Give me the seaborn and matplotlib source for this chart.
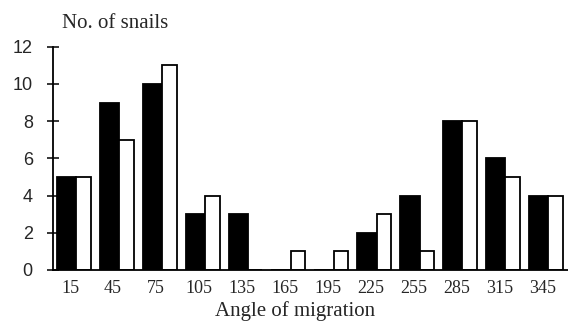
import numpy as np
import pandas as pd
import seaborn as sns
import matplotlib.pyplot as plt

# angle classes (degrees) and snail counts per class
angles = [15, 45, 75, 105, 135, 165, 195, 225, 255, 285, 315, 345]
black_counts = [5, 9, 10, 3, 3, 0, 0, 2, 4, 8, 6, 4]
white_counts = [5, 7, 11, 4, 0, 1, 1, 3, 1, 8, 5, 4]
y_ticks = [0, 2, 4, 6, 8, 10, 12]

df = pd.DataFrame({
    'angle': [str(a) for a in angles] * 2,
    'count': black_counts + white_counts,
    'series': ['black'] * len(angles) + ['white'] * len(angles),
})

sns.set_style('white')
plt.rcParams['font.family'] = ['Liberation Serif', 'DejaVu Serif']

fig = plt.figure(figsize=(5.68, 3.25), dpi=100)
ax = fig.add_axes([53 / 568, 55 / 325, 1 - 53 / 568, (270 - 46.7) / 325])

sns.barplot(data=df, x='angle', y='count', hue='series',
            palette={'black': 'black', 'white': 'white'},
            edgecolor='black', linewidth=1.3, width=0.8,
            legend=False, ax=ax)

# black bar a bit wider than the white one, as in the original figure
n = len(angles)
for i, p in enumerate(ax.patches[:2 * n]):
    k = i % n
    if i < n:
        p.set_x(k - 0.41)
        p.set_width(0.45)
    else:
        p.set_x(k + 0.04)
        p.set_width(0.34)

ax.set_xlim(-0.5, 11.26)
ax.set_ylim(0, 12)
ax.set_yticks(y_ticks)
ax.set_yticklabels([str(v) for v in y_ticks], family='Liberation Sans', fontsize=13)
ax.set_xticks(np.arange(n) - 0.1)
ax.set_xticklabels([str(a) for a in angles], fontsize=13)
ax.set_xticks(np.arange(n + 1) - 0.5, minor=True)
ax.tick_params(axis='x', which='major', length=0, pad=7)
ax.tick_params(axis='x', which='minor', direction='inout', length=9, width=1.3)
ax.tick_params(axis='y', direction='inout', length=9, width=1.3, pad=10, left=True)
ax.set_xlabel('')
ax.set_ylabel('')

for side in ['top', 'right']:
    ax.spines[side].set_visible(False)
for side in ['left', 'bottom']:
    ax.spines[side].set_linewidth(1.3)
    ax.spines[side].set_color('black')

fig.text(115 / 568, 1 - 28 / 325, 'No. of snails', ha='center', va='baseline', fontsize=15)
fig.text(295 / 568, 1 - 316 / 325, 'Angle of migration', ha='center', va='baseline', fontsize=15)

fig.savefig('out.png', dpi=100)
